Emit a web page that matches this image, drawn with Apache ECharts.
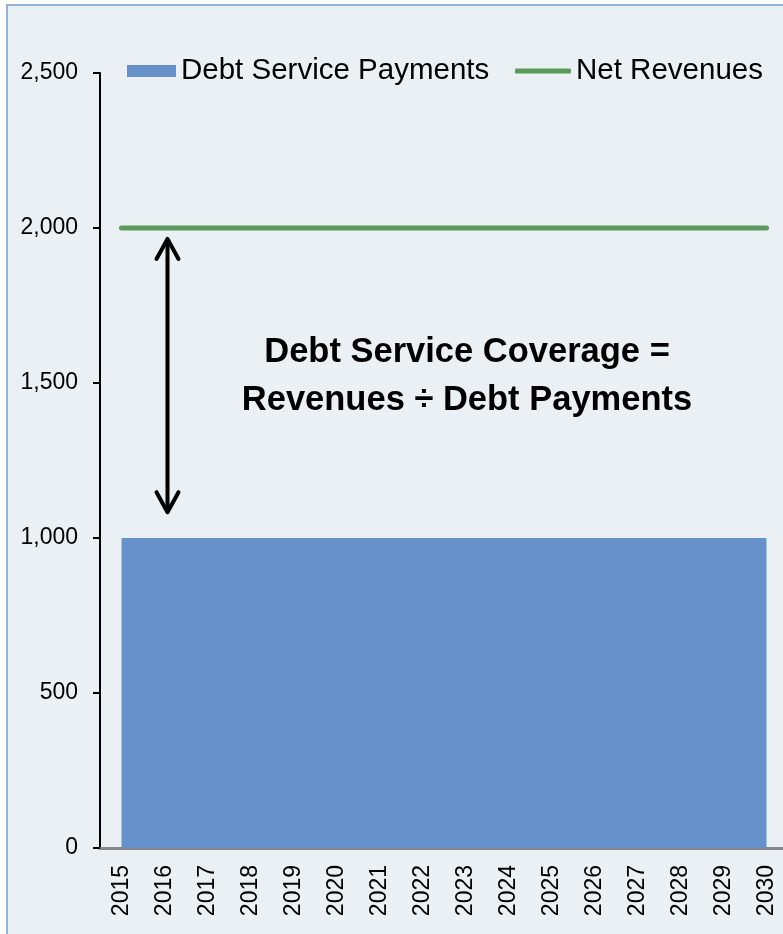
<!DOCTYPE html>
<html>
<head>
<meta charset="utf-8">
<script src="https://cdn.jsdelivr.net/npm/echarts@6/dist/echarts.min.js"></script>
<style>
html,body{margin:0;padding:0;background:#fff;overflow:hidden;width:783px;height:934px;}
#chart{width:800px;height:934px;}
</style>
</head>
<body>
<div id="chart"></div>
<script>
// ---- data ----
const years = ['2015','2016','2017','2018','2019','2020','2021','2022','2023','2024','2025','2026','2027','2028','2029','2030'];
const debtServicePayments = [1000,1000,1000,1000,1000,1000,1000,1000,1000,1000,1000,1000,1000,1000,1000,1000];
const netRevenues = [2000,2000,2000,2000,2000,2000,2000,2000,2000,2000,2000,2000,2000,2000,2000,2000];
const yTicks = [0, 500, 1000, 1500, 2000, 2500];
// arrow annotation: [category index, top value, bottom value]
const arrowData = [[1, 1968, 1080]];
const annotationLines = ['Debt Service Coverage =', 'Revenues \u00F7 Debt Payments'];

const FONT = '"Liberation Sans", Arial, sans-serif';
const chart = echarts.init(document.getElementById('chart'), null, {renderer:'canvas'});

const option = {
  backgroundColor: '#ffffff',
  animation: false,
  graphic: [
    {type:'rect', z:-10, shape:{x:7, y:5, width:820, height:950},
     style:{fill:'#EAF0F4', stroke:'#95B3D7', lineWidth:2}},
    {type:'text', z:100, x:467, y:376,
     style:{text: annotationLines.join('\n'), font:'bold 34.5px ' + FONT, fill:'#000',
            textAlign:'center', textVerticalAlign:'middle', lineHeight:48}}
  ],
  legend: [
    {data:[{name:'Debt Service Payments', icon:'rect'}], left:127, top:56, padding:0,
     itemWidth:49, itemHeight:12, itemStyle:{borderWidth:0},
     textStyle:{fontFamily:FONT, fontSize:29.5, color:'#000'}},
    {data:[{name:'Net Revenues', icon:'roundRect'}], left:515, top:56, padding:0,
     itemWidth:56, itemHeight:5, itemStyle:{borderWidth:0},
     textStyle:{fontFamily:FONT, fontSize:29.5, color:'#000'}}
  ],
  grid: {left:100, top:73, width:688, height:775, containLabel:false},
  xAxis: {
    type:'category', data: years, boundaryGap:true,
    axisLine:{show:true, lineStyle:{color:'#878787', width:3}},
    axisTick:{show:false},
    axisLabel:{rotate:90, margin:17, fontFamily:FONT, fontSize:23, color:'#000', interval:0},
    splitLine:{show:false}
  },
  yAxis: {
    type:'value', min:yTicks[0], max:yTicks[yTicks.length-1], interval:500,
    axisLine:{show:true, lineStyle:{color:'#000', width:2}},
    axisTick:{show:true, length:7, lineStyle:{color:'#000', width:2}},
    axisLabel:{margin:22, fontFamily:FONT, fontSize:23, color:'#000',
      formatter: v => v.toLocaleString('en-US')},
    splitLine:{show:false}
  },
  series: [
    {name:'Debt Service Payments', type:'line', data: debtServicePayments,
     color:'#6691CB', symbol:'none', z:2,
     lineStyle:{width:0, color:'#6691CB'},
     areaStyle:{color:'#6691CB', opacity:1}},
    {name:'Net Revenues', type:'line', data: netRevenues,
     color:'#5B9A5B', symbol:'none', z:3,
     lineStyle:{width:5, color:'#5B9A5B', cap:'round'}},
    {name:'arrow', type:'custom', data: arrowData, z:10,
     renderItem: function(params, api){
       const t = api.coord([api.value(0), api.value(1)]);
       const b = api.coord([api.value(0), api.value(2)]);
       const x = t[0] + 3;
       const st = {stroke:'#000', lineWidth:4, fill:null, lineCap:'round', lineJoin:'round'};
       return {type:'group', children:[
         {type:'line', shape:{x1:x, y1:t[1]+2, x2:x, y2:b[1]-2}, style:st},
         {type:'polyline', shape:{points:[[x-11, t[1]+21],[x, t[1]+1],[x+11, t[1]+21]]}, style:st},
         {type:'polyline', shape:{points:[[x-11, b[1]-21],[x, b[1]-1],[x+11, b[1]-21]]}, style:st}
       ]};
     }}
  ]
};
chart.setOption(option);
</script>
</body>
</html>
